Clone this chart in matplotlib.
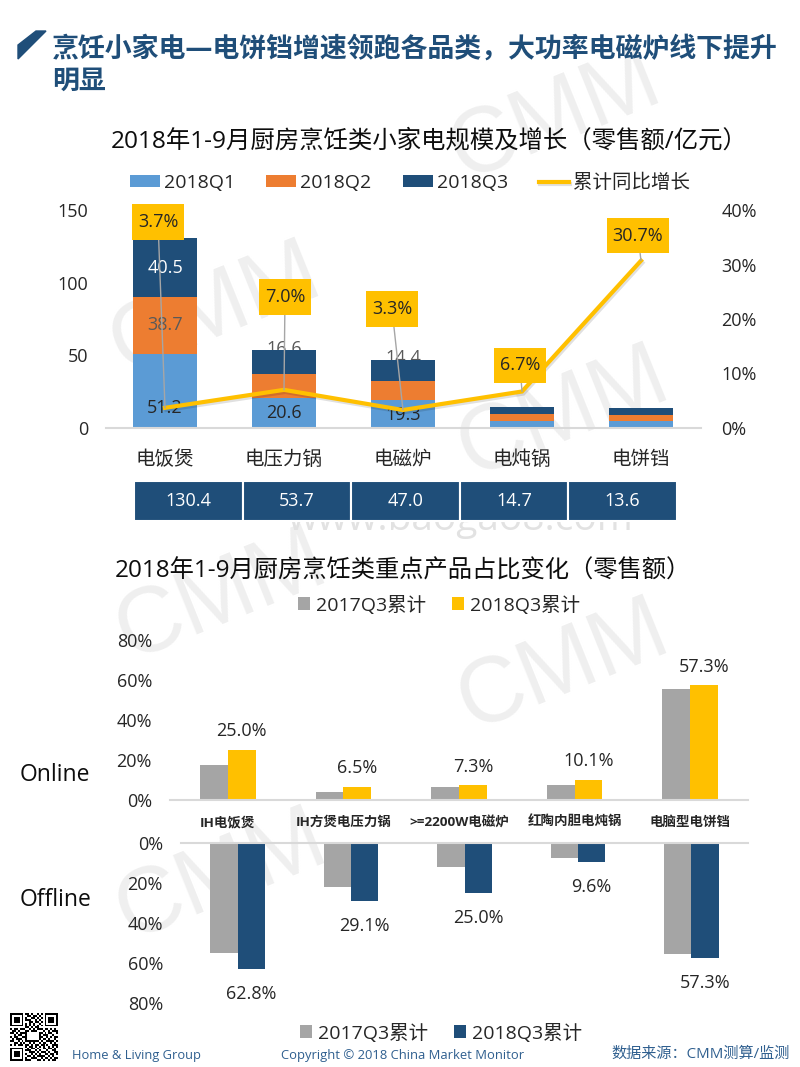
import numpy as np
import matplotlib
matplotlib.use("Agg")
import matplotlib.pyplot as plt
import matplotlib.patheffects as pe
from matplotlib.patches import Polygon

plt.rcParams['font.family'] = ['Open Sans', 'Noto Sans CJK SC', 'DejaVu Sans']

W, H = 800, 1067

# ── data ──────────────────────────────
cats = ['电饭煲', '电压力锅', '电磁炉', '电炖锅', '电饼铛']
q1 = [51.2, 20.6, 19.3, 5.0, 4.6]
q2 = [38.7, 16.5, 13.3, 4.5, 4.4]
q3 = [40.5, 16.6, 14.4, 5.2, 4.6]
growth = [3.7, 7.0, 3.3, 6.7, 30.7]
totals = ['130.4', '53.7', '47.0', '14.7', '13.6']

products = ['IH电饭煲', 'IH方煲电压力锅', '>=2200W电磁炉', '红陶内胆电炖锅', '电脑型电饼铛']
online_2017 = [17.5, 4.0, 6.5, 7.5, 55.5]
online_2018 = [25.0, 6.5, 7.3, 10.1, 57.3]
offline_2017 = [55.0, 22.0, 12.0, 7.5, 55.5]
offline_2018 = [62.8, 29.1, 25.0, 9.6, 57.3]

qr_rows = [
    "1111111011010010101111111",
    "1000001001101101001000001",
    "1011101010011010101011101",
    "1011101011100101001011101",
    "1011101000110110101011101",
    "1000001010101001001000001",
    "1111111010101010101111111",
    "0000000011010110000000000",
    "1011011100101011101101010",
    "0110100011011100010010111",
    "1101011110000001101011001",
    "0010110010000001011100100",
    "1011001110000001100101011",
    "0101110010000001011010010",
    "1100101011111110100111101",
    "0011010100101001011001010",
    "1010111011010110110100111",
    "0000000010110101010010101",
    "1111111001011010011011010",
    "1000001011100101000100110",
    "1011101000111010111010011",
    "1011101010010101001101101",
    "1011101001101011110010100",
    "1000001010011100101101011",
    "1111111011100011010010110",
]

BLUE = '#5B9BD5'
ORANGE = '#ED7D31'
NAVY = '#1F4E79'
GOLD = '#FFC000'
GRAY = '#A5A5A5'
LINE = '#D9D9D9'


def axes_px(x0, y0, x1, y1, **kw):
    # pixel box (top-left origin) to figure axes
    return fig.add_axes([x0 / W, 1 - y1 / H, (x1 - x0) / W, (y1 - y0) / H], **kw)


def clean(ax, keep):
    for s in ax.spines:
        ax.spines[s].set_visible(s == keep)
    ax.spines[keep].set_color(LINE)
    ax.spines[keep].set_linewidth(1.5)
    ax.patch.set_visible(False)


fig = plt.figure(figsize=(8, 10.67), dpi=100)

# ── background layer: watermark, heading, footer ──────────────────────
bg = axes_px(0, 0, W, H, zorder=-1)
bg.set_xlim(0, W)
bg.set_ylim(H, 0)
bg.axis('off')

for x, y in [(555, 117), (563, 414), (563, 667), (215, 310), (221, 597), (221, 877)]:
    bg.text(x, y, 'CMM', fontsize=66, color='#EFEFEF', rotation=22,
            ha='center', va='center', family='Liberation Sans')
bg.text(460, 520, 'www.baogao8.com', fontsize=28, color='#E2E2E2', ha='center', va='center')

bg.add_patch(Polygon([(18, 59), (18, 45), (36, 31), (46, 31)], color=NAVY))
bg.text(52, 49, '烹饪小家电—电饼铛增速领跑各品类，大功率电磁炉线下提升', fontsize=19.4,
        weight='bold', color=NAVY, va='center')
bg.text(52, 82, '明显', fontsize=19.4, weight='bold', color=NAVY, va='center')

bg.text(429, 141, '2018年1-9月厨房烹饪类小家电规模及增长（零售额/亿元）', fontsize=17.6,
        color='#0D0D0D', ha='center', va='center')
bg.text(403, 572, '2018年1-9月厨房烹饪类重点产品占比变化（零售额）', fontsize=17.5,
        color='#0D0D0D', ha='center', va='center')

bg.text(20, 775, 'Online', fontsize=16.5, color='#0D0D0D', va='center')
bg.text(20, 900, 'Offline', fontsize=16.5, color='#0D0D0D', va='center')

qr = np.array([[int(c) for c in row] for row in qr_rows])
bg.imshow(qr, cmap='gray_r', extent=(10, 58, 1061, 1013), interpolation='nearest', aspect='auto')
bg.set_xlim(0, W)
bg.set_ylim(H, 0)

bg.text(72, 1056, 'Home & Living Group', fontsize=9.3, color='#2F5F8F', va='center')
bg.text(281, 1056, 'Copyright © 2018 China Market Monitor', fontsize=9.4, color='#2F5F8F', va='center')
bg.text(790, 1054, '数据来源：CMM测算/监测', fontsize=10.9, color='#2F5F8F', ha='right', va='center')

# ── chart 1: stacked bars + growth line ───────────────────────────────
ax = axes_px(105.5, 210, 700.5, 428)
clean(ax, 'bottom')
x = np.arange(len(cats))
width = 0.53
b1 = ax.bar(x, q1, width, color=BLUE, label='2018Q1', zorder=2)
b2 = ax.bar(x, q2, width, bottom=q1, color=ORANGE, label='2018Q2', zorder=2)
bottom3 = np.add(q1, q2)
b3 = ax.bar(x, q3, width, bottom=bottom3, color=NAVY, label='2018Q3', zorder=2)
ax.set_xlim(-0.5, 4.5)
ax.set_ylim(0, 150)
ax.set_yticks([0, 50, 100, 150])
ax.set_xticks(x, cats)
ax.tick_params(axis='y', length=0, pad=12.5, labelsize=13, labelcolor='#262626')
ax.tick_params(axis='x', length=0, pad=16.5, labelsize=14, labelcolor='#262626')

ax.bar_label(b2, labels=['38.7', '', '', '', ''], label_type='center', fontsize=13, color='#595959', zorder=3)
ax.bar_label(b3, labels=['40.5', '', '', '', ''], label_type='center', fontsize=13, color='white', zorder=3)
for i, off in zip(range(3), [14.5, 10.5, 9]):
    ax.annotate(f'{q1[i]:.1f}', xy=(i, 0), xytext=(0, off), textcoords='offset points',
                ha='center', va='center', fontsize=13, color='#262626', zorder=3)
for i in [1, 2]:
    ax.annotate(f'{q3[i]:.1f}', xy=(i, bottom3[i] + q3[i]), xytext=(0, 1), textcoords='offset points',
                ha='center', va='center', fontsize=13, color='#595959', zorder=1)

ax2 = ax.twinx()
clean(ax2, 'bottom')
ax2.spines['bottom'].set_visible(False)
ln, = ax2.plot(x, growth, color=GOLD, lw=3, label='累计同比增长', solid_joinstyle='miter',
               path_effects=[pe.SimpleLineShadow(offset=(1, -1.5), alpha=0.12), pe.Normal()])
ax2.set_ylim(0, 40)
ax2.set_yticks([0, 10, 20, 30, 40], ['0%', '10%', '20%', '30%', '40%'])
ax2.tick_params(axis='y', length=0, pad=15, labelsize=13, labelcolor='#262626')

# callout box offsets in px from each line point
offsets = [(-7, 186), (1, 93), (-11, 101), (-2, 26), (-3, 25)]
for i, (dx, dy) in enumerate(offsets):
    ax2.annotate(f'{growth[i]:.1f}%', xy=(i, growth[i]), xytext=(dx * 0.72, dy * 0.72),
                 textcoords='offset points', ha='center', va='center', fontsize=13, color='#262626',
                 bbox=dict(boxstyle='square,pad=0.3', fc=GOLD, ec='none', mutation_aspect=1.6),
                 arrowprops=dict(arrowstyle='-', color='#A6A6A6', lw=1, shrinkA=0, shrinkB=0))

fig.legend(handles=[b1, b2, b3, ln], loc='center', bbox_to_anchor=(410 / W, 1 - 183 / H), ncol=4,
           frameon=False, fontsize=14, labelcolor='#262626', handlelength=1.55, handleheight=0.6,
           handletextpad=0.2, columnspacing=1.6, borderpad=0)

# totals row under the first chart
tb = axes_px(134, 481, 677, 521)
tb.axis('off')
table = tb.table(cellText=[totals], bbox=[0, 0, 1, 1], cellLoc='center')
table.auto_set_font_size(False)
for cell in table.get_celld().values():
    cell.set_facecolor(NAVY)
    cell.set_edgecolor('white')
    cell.set_linewidth(1.5)
    cell.get_text().set_color('white')
    cell.get_text().set_fontsize(13)

# ── chart 2: online ───────────────────────────────────────────────────
bw = 0.24
x2 = np.arange(len(products))

on = axes_px(170, 640, 748, 800)
clean(on, 'bottom')
g1 = on.bar(x2 - bw / 2, online_2017, bw, color=GRAY, label='2017Q3累计')
y1 = on.bar(x2 + bw / 2, online_2018, bw, color=GOLD, label='2018Q3累计')
on.set_xlim(-0.5, 4.5)
on.set_ylim(0, 80)
on.set_yticks([0, 20, 40, 60, 80], ['0%', '20%', '40%', '60%', '80%'])
on.set_xticks(x2, products)
on.tick_params(axis='y', length=0, pad=13, labelsize=13, labelcolor='#262626')
on.tick_params(axis='x', length=0, pad=11.5, labelsize=9.7, labelcolor='#262626')
for lab in on.get_xticklabels():
    lab.set_fontweight('bold')
on.bar_label(y1, fmt='%.1f%%', padding=7, fontsize=13, color='#262626')

fig.legend(handles=[g1, y1], loc='center', bbox_to_anchor=(439 / W, 1 - 605 / H), ncol=2,
           frameon=False, fontsize=14, labelcolor='#262626', handlelength=0.65, handleheight=0.65,
           handletextpad=0.3, columnspacing=1.3, borderpad=0)

# ── chart 2: offline (axis runs downward) ─────────────────────────────
off = axes_px(181, 843, 748, 1003)
clean(off, 'top')
g2 = off.bar(x2 - bw / 2, offline_2017, bw, color=GRAY, label='2017Q3累计')
n2 = off.bar(x2 + bw / 2, offline_2018, bw, color=NAVY, label='2018Q3累计')
off.set_xlim(-0.5, 4.5)
off.set_ylim(80, 0)
off.set_yticks([0, 20, 40, 60, 80], ['0%', '20%', '40%', '60%', '80%'])
off.set_xticks([])
off.tick_params(axis='y', length=0, pad=13, labelsize=13, labelcolor='#262626')
off.bar_label(n2, fmt='%.1f%%', padding=11.5, fontsize=13, color='#262626')

fig.legend(handles=[g2, n2], loc='center', bbox_to_anchor=(441 / W, 1 - 1033 / H), ncol=2,
           frameon=False, fontsize=14, labelcolor='#262626', handlelength=0.65, handleheight=0.65,
           handletextpad=0.3, columnspacing=1.3, borderpad=0)

fig.savefig('out.png', dpi=100)
